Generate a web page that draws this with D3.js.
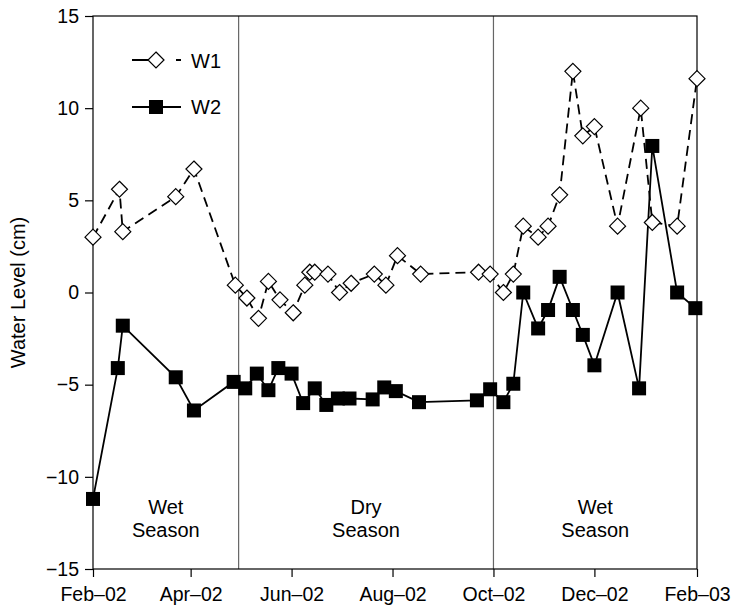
<!DOCTYPE html>
<html lang="en">
<meta charset="utf-8">
<script src='https://d3js.org/d3.v7.min.js'></script>
<style>
  body { margin: 0; background: #fff; }
  text { font-family: "Liberation Sans", Arial, sans-serif; }
</style>
<body>
<svg width=731 height=607></svg>
<script>
    // sampling dates and water levels (cm)
    var w1Dates = ["2002-02-01","2002-02-17","2002-02-19","2002-03-23","2002-04-03","2002-04-28",
        "2002-05-05","2002-05-12","2002-05-18","2002-05-25","2002-06-02","2002-06-09","2002-06-12",
        "2002-06-15","2002-06-23","2002-06-30","2002-07-07","2002-07-21","2002-07-28","2002-08-04",
        "2002-08-18","2002-09-22","2002-09-29","2002-10-07","2002-10-13","2002-10-19","2002-10-28",
        "2002-11-03","2002-11-10","2002-11-18","2002-11-24","2002-12-01","2002-12-15","2002-12-29",
        "2003-01-05","2003-01-20","2003-02-01"];
    var w1Levels = [3.0, 5.6, 3.3, 5.2, 6.7, 0.4, -0.3, -1.4, 0.6, -0.4, -1.1, 0.4, 1.1,
        1.1, 1.0, 0.0, 0.5, 1.0, 0.4, 2.0, 1.0, 1.1, 1.0, 0.0, 1.0, 3.6, 3.0,
        3.6, 5.3, 12.0, 8.5, 9.0, 3.6, 10.0, 3.8, 3.6, 11.6];

    var w2Dates = ["2002-02-01","2002-02-16","2002-02-19","2002-03-23","2002-04-03","2002-04-27",
        "2002-05-04","2002-05-11","2002-05-18","2002-05-24","2002-06-01","2002-06-08","2002-06-15",
        "2002-06-22","2002-06-29","2002-07-06","2002-07-20","2002-07-27","2002-08-03","2002-08-17",
        "2002-09-21","2002-09-29","2002-10-07","2002-10-13","2002-10-19","2002-10-28","2002-11-03",
        "2002-11-10","2002-11-18","2002-11-24","2002-12-01","2002-12-15","2002-12-28","2003-01-05",
        "2003-01-20","2003-01-31"];
    var w2Levels = [-11.2, -4.1, -1.8, -4.6, -6.4, -4.85, -5.2, -4.4, -5.3, -4.1, -4.4, -6.0, -5.2,
        -6.1, -5.75, -5.75, -5.8, -5.15, -5.35, -5.95, -5.85, -5.25, -5.95, -4.95, 0.0, -1.95, -0.95,
        0.85, -0.95, -2.3, -3.95, 0.0, -5.2, 7.95, 0.0, -0.85];

    var xTickDates = ["2002-02-01","2002-04-01","2002-06-01","2002-08-01","2002-10-01","2002-12-01","2003-02-01"];
    var yTicks = [-15, -10, -5, 0, 5, 10, 15];
    var seasonBreaks = ["2002-04-30", "2002-10-01"];
    var seasons = [
        {name: "Wet", from: "2002-02-01", to: "2002-04-30"},
        {name: "Dry", from: "2002-04-30", to: "2002-10-01"},
        {name: "Wet", from: "2002-10-01", to: "2003-02-01"}
    ];

    var parse = d3.timeParse("%Y-%m-%d");
    var pLeft = 93, pTop = 16, pRight = 697, pBottom = 569;

    var x = d3.scaleTime().domain([parse("2002-02-01"), parse("2003-02-01")]).range([pLeft, pRight]);
    var y = d3.scaleLinear().domain([-15, 15]).range([pBottom, pTop]);

    var w1 = w1Dates.map(function (d, i) { return {date: parse(d), v: w1Levels[i]}; });
    var w2 = w2Dates.map(function (d, i) { return {date: parse(d), v: w2Levels[i]}; });

    var svg = d3.select("svg");

    // season dividers
    svg.selectAll("line.season")
        .data(seasonBreaks)
        .enter().append("line")
        .attr("x1", function (d) { return x(parse(d)); })
        .attr("x2", function (d) { return x(parse(d)); })
        .attr("y1", pTop).attr("y2", pBottom)
        .attr("stroke", "#666").attr("stroke-width", 1.2);

    // season labels
    var sl = svg.selectAll("text.season")
        .data(seasons)
        .enter().append("text")
        .attr("text-anchor", "middle")
        .attr("font-size", 20)
        .attr("x", function (d) { return (x(parse(d.from)) + x(parse(d.to))) / 2; })
        .attr("y", 514);
    sl.append("tspan").text(function (d) { return d.name; });
    sl.append("tspan")
        .attr("x", function (d) { return (x(parse(d.from)) + x(parse(d.to))) / 2; })
        .attr("dy", 23).text("Season");

    // frame
    svg.append("rect")
        .attr("x", pLeft).attr("y", pTop)
        .attr("width", pRight - pLeft).attr("height", pBottom - pTop)
        .attr("fill", "none").attr("stroke", "#000").attr("stroke-width", 1.2);

    // axes
    var yAxis = svg.append("g")
        .attr("transform", "translate(" + pLeft + ",0)")
        .call(d3.axisLeft(y).tickValues(yTicks).tickSize(8).tickPadding(6));
    var xAxis = svg.append("g")
        .attr("transform", "translate(0," + pBottom + ")")
        .call(d3.axisBottom(x).tickValues(xTickDates.map(parse)).tickSize(8).tickPadding(10)
            .tickFormat(d3.timeFormat("%b\u2013%y")));
    [xAxis, yAxis].forEach(function (g) {
        g.select(".domain").remove();
        g.selectAll("text").attr("font-size", 19.5).attr("fill", "#000")
            .attr("font-family", "'Liberation Sans', Arial, sans-serif");
        g.selectAll("line").attr("stroke", "#000").attr("stroke-width", 1.2);
    });

    svg.append("text")
        .attr("transform", "translate(25," + y(0) + ") rotate(-90)")
        .attr("text-anchor", "middle")
        .attr("font-size", 20)
        .text("Water Level (cm)");

    var line = d3.line()
        .x(function (d) { return x(d.date); })
        .y(function (d) { return y(d.v); });

    // W2 series
    svg.append("path").datum(w2)
        .attr("d", line)
        .attr("fill", "none").attr("stroke", "#000").attr("stroke-width", 1.8);
    svg.selectAll("rect.w2")
        .data(w2)
        .enter().append("rect")
        .attr("x", function (d) { return x(d.date) - 7; })
        .attr("y", function (d) { return y(d.v) - 7; })
        .attr("width", 14).attr("height", 14)
        .attr("fill", "#000");

    // W1 series
    svg.append("path").datum(w1)
        .attr("d", line)
        .attr("fill", "none").attr("stroke", "#000").attr("stroke-width", 1.8)
        .attr("stroke-dasharray", "10,6");
    var diamond = "M0,-8L8,0L0,8L-8,0Z";
    svg.selectAll("path.w1")
        .data(w1)
        .enter().append("path")
        .attr("transform", function (d) { return "translate(" + x(d.date) + "," + y(d.v) + ")"; })
        .attr("d", diamond)
        .attr("fill", "#fff").attr("stroke", "#000").attr("stroke-width", 1.2);

    // legend
    var lg = svg.append("g");
    lg.append("line").attr("x1", 132).attr("x2", 181).attr("y1", 60).attr("y2", 60)
        .attr("stroke", "#000").attr("stroke-width", 1.8).attr("stroke-dasharray", "16,28,5");
    lg.append("path").attr("transform", "translate(156,60)").attr("d", diamond)
        .attr("fill", "#fff").attr("stroke", "#000").attr("stroke-width", 1.2);
    lg.append("text").attr("x", 191).attr("y", 68).attr("font-size", 20).text("W1");
    lg.append("line").attr("x1", 132).attr("x2", 181).attr("y1", 107).attr("y2", 107)
        .attr("stroke", "#000").attr("stroke-width", 1.8);
    lg.append("rect").attr("x", 149).attr("y", 100).attr("width", 14).attr("height", 14).attr("fill", "#000");
    lg.append("text").attr("x", 191).attr("y", 114).attr("font-size", 20).text("W2");
</script>
</body>
</html>
